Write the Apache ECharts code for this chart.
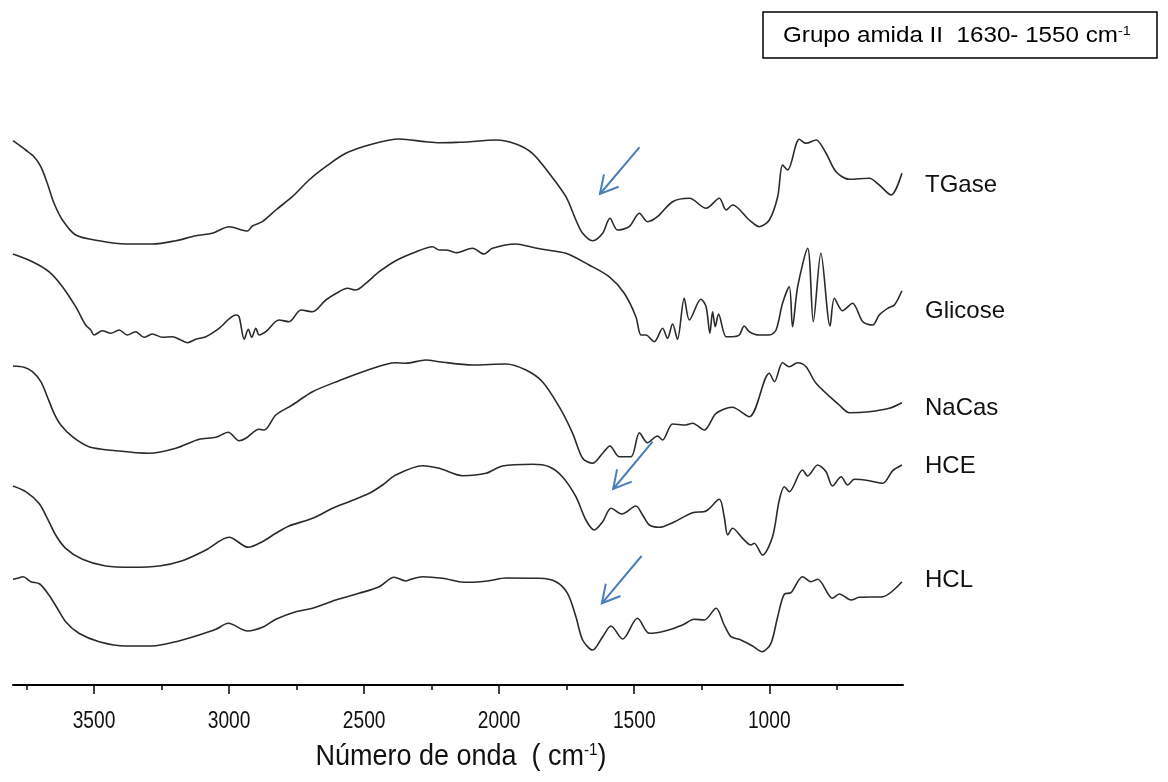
<!DOCTYPE html>
<html><head><meta charset="utf-8">
<script src="https://cdn.jsdelivr.net/npm/echarts@6/dist/echarts.min.js"></script>
<style>html,body{margin:0;padding:0;background:#fff}#c{width:1168px;height:782px}</style>
</head><body><div id="c"></div>
<script>
const seriesNames = ['TGase','Glicose','NaCas','HCE','HCL'];

const tgaseWn = [3800,3753,3722,3697,3673,3648,3617,3568,3481,3383,3284,3197,3123,3062,3000,2932,2914,2877,2827,2766,2704,2642,2568,2469,2370,2272,2222,2148,2123,2012,1938,1877,1815,1753,1716,1691,1654,1617,1590,1562,1519,1481,1451,1414,1358,1296,1234,1185,1160,1136,1074,1037,1000,969,951,932,889,864,827,790,753,704,630,593,549,509];
const tgaseVal = [559.3,550,543.3,533.3,516.7,496.7,480,465,459.3,456,456,459.3,464.3,466.7,473.3,469,474,478.3,490,503.3,520,533.3,546.7,556,561,558.3,557.3,557.7,558,560,556,546.7,526.7,503.3,480,466.7,459.3,466.7,481.7,470,473.3,486.7,478.3,483.3,498.3,501.7,491.7,501.7,490,495,480,473.3,480,503.3,535,530,560.7,556.7,560,546.7,528.3,520.7,521.7,515,505,526.7];

const glicoseWn = [3800,3728,3667,3617,3568,3531,3512,3500,3469,3438,3407,3377,3346,3315,3284,3247,3210,3179,3154,3123,3086,3037,2975,2963,2944,2929,2916,2901,2889,2864,2815,2778,2734,2691,2642,2593,2562,2531,2494,2444,2383,2321,2247,2222,2197,2160,2099,2056,2025,1938,1877,1840,1753,1667,1593,1537,1494,1475,1457,1426,1395,1377,1358,1340,1315,1296,1253,1234,1220,1210,1200,1188,1160,1136,1111,1093,1074,1037,1000,975,951,926,914,895,858,837,809,775,759,729,692,654,617,593,562,537,509];
const glicoseVal = [446,438.3,428.3,413.3,393.3,375,370,365,369.3,366.7,370,365,368.3,362.7,366,362.7,363.3,360,357.3,360.7,363.3,371.7,385,383.3,360.7,370.7,362.7,371.7,365,368.3,380,378.3,390,388.3,400,408.3,411.7,410,416.7,428.3,439.3,446.7,453.3,450,450,447.3,451.7,446,451.7,456,452.7,450.7,446.7,435,423.3,406.7,383.3,365,365,358.3,371.7,361.7,376,360.7,401.7,380,400.7,393.3,366.7,388.3,373.3,386,363.3,363.3,365,374,368.3,365,365,370,396.7,413.3,373.3,413.3,451.7,378.3,446.7,374,401.7,389.3,396.7,378.3,375,385,391.7,395,409.3];

const nacasWn = [3800,3759,3728,3697,3673,3648,3623,3580,3519,3420,3296,3197,3111,3049,3003,2963,2938,2889,2870,2827,2766,2691,2593,2494,2383,2346,2272,2222,2099,1975,1901,1840,1778,1728,1691,1654,1617,1590,1556,1512,1481,1451,1414,1395,1358,1309,1284,1241,1197,1138,1074,1000,981,951,926,895,864,827,741,704,630,556,509];
const nacasVal = [334,332.7,328.3,318.3,303.3,286.7,275,263.3,253.3,249.3,246.7,251.7,260.7,262.7,267.7,259.3,261.7,270.7,270,285,295,308.3,319.3,329.3,337.3,336.7,340,338.3,335,336,330,318.3,293.3,266.7,241.7,236.7,246.7,254,243.3,243.3,267.3,257.3,264,260,276,275,276.7,270,286.7,292.7,283.3,326.7,318.3,337.3,333.3,337.3,333.3,316.7,295,287.3,288.3,291.7,297.3];

const hceWn = [3800,3753,3704,3673,3642,3605,3543,3457,3358,3259,3173,3086,3000,2929,2877,2827,2778,2691,2617,2556,2481,2432,2383,2284,2222,2136,2049,1988,1877,1815,1766,1716,1679,1648,1617,1586,1546,1494,1469,1444,1407,1358,1284,1234,1185,1167,1154,1136,1099,1068,1056,1025,988,963,944,926,877,858,821,790,766,734,710,685,630,580,543,509];
const hceVal = [214,208.3,196.7,181.7,165,151.7,140.7,134,132.7,134,139.3,150,162.7,152.7,158.3,166.7,174,181.7,191.7,198.3,206.7,215,225,234.3,231.7,224.3,226.7,234,235.7,233.3,223.3,203.3,180,170,178.3,191.7,186,194,185,175,172.7,177.3,187.3,189,200.7,183.3,165,171.7,161.7,155,156.7,145,163.3,200,213.3,208.3,230,224,235,228.3,214,223.3,215,220.7,219.3,216.7,229.3,235];

const hclWn = [3800,3784,3763,3734,3701,3667,3636,3605,3556,3481,3383,3284,3197,3111,3049,3003,2932,2877,2827,2753,2691,2605,2519,2444,2389,2346,2327,2284,2210,2148,2111,2037,1975,1852,1790,1747,1716,1691,1654,1617,1586,1543,1488,1444,1383,1321,1278,1241,1197,1167,1142,1111,1062,1027,994,969,944,920,877,846,821,766,741,697,667,580,509];
const hclVal = [120.7,121.7,123.3,118.3,116,105,91.7,78.3,66.7,58.3,54,54,58.3,65,70.7,76.7,69,72.7,80.7,88.3,91.7,100,106.7,113.3,122.7,119,120.7,123.3,121.7,118.3,117.7,119.3,122,121.7,118.3,106.7,83.3,60,50,63.3,74,61,81.7,66.7,69.3,75,80.7,80,91.7,75,63.3,60.7,54,48.3,56.7,83.3,106,107.3,123.3,118.3,120.7,101.7,106,100,102.7,103.3,118.3];

const majorTicks = [3500,3000,2500,2000,1500,1000];
const minorTicks = [3750,3250,2750,2250,1750,1250,750];
const tickLabels = ['3500','3000','2500','2000','1500','1000'];

const arrowStartWn = [1481,1432,1473];
const arrowStartVal = [552.7,258.3,144];
const arrowTipWn = [1627,1578,1620];
const arrowTipVal = [506,211,96.7];

const labelY = [185,311,408,466,580];

const wnSets = [tgaseWn, glicoseWn, nacasWn, hceWn, hclWn];
const valSets = [tgaseVal, glicoseVal, nacasVal, hceVal, hclVal];

const chart = echarts.init(document.getElementById('c'), null, {renderer:'canvas'});
const sans = "'Liberation Sans',Arial,Helvetica,sans-serif";

const option = {
  animation: false,
  backgroundColor: '#fff',
  grid: {left: 13, right: 265, top: 60, bottom: 97},
  xAxis: [{
    type: 'value', inverse: true, min: 505, max: 3800,
    axisLine: {show: true, lineStyle: {color: '#000', width: 2}},
    axisTick: {show: true, customValues: majorTicks, length: 9, lineStyle: {color: '#000', width: 1.5}},
    axisLabel: {show: false},
    splitLine: {show: false}
  }, {
    type: 'value', inverse: true, min: 505, max: 3800, position: 'bottom',
    axisLine: {show: false},
    axisTick: {show: true, customValues: minorTicks, length: 5, lineStyle: {color: '#000', width: 1.5}},
    axisLabel: {show: false}, splitLine: {show: false}
  }],
  yAxis: {type: 'value', min: 15, max: 640, show: false},
  series: seriesNames.map((n, i) => ({
    name: n, type: 'line', xAxisIndex: 0, showSymbol: false, smooth: 0.3,
    lineStyle: {color: '#2a2a2a', width: 1.6},
    data: wnSets[i].map((w, j) => [w, valSets[i][j]])
  })),
  graphic: []
};
chart.setOption(option);

const g = [];
majorTicks.forEach((t, i) => {
  const px = chart.convertToPixel({xAxisIndex: 0}, t);
  g.push({type: 'text', x: px, y: 721, scaleX: 0.8,
    style: {text: tickLabels[i], fontSize: 24, fontFamily: sans, fill: '#111',
      align: 'center', verticalAlign: 'middle'}});
});
const cx = (chart.convertToPixel({xAxisIndex: 0}, 3800) + chart.convertToPixel({xAxisIndex: 0}, 505)) / 2 + 3;
g.push({type: 'text', x: cx, y: 757, scaleX: 0.9,
  style: {text: '{a|Número de onda  ( cm}{s|-1}{a|)}', align: 'center', verticalAlign: 'middle',
    rich: {a: {fontSize: 30, fontFamily: sans, fill: '#111'},
           s: {fontSize: 17, fontFamily: sans, fill: '#111', verticalAlign: 'top', padding: [0,0,14,0]}}}});
seriesNames.forEach((n, i) => {
  g.push({type: 'text', x: 925, y: labelY[i],
    style: {text: n, fontSize: 24, fontFamily: sans, fill: '#111', verticalAlign: 'middle'}});
});
g.push({type: 'rect', shape: {x: 763, y: 12, width: 394, height: 46},
  style: {fill: '#fff', stroke: '#000', lineWidth: 1.5}});
g.push({type: 'text', x: 783, y: 36, scaleX: 1.1,
  style: {text: '{a|Grupo amida II  1630- 1550 cm}{s|-1}', verticalAlign: 'middle',
    rich: {a: {fontSize: 22, fontFamily: sans, fill: '#000'},
           s: {fontSize: 13, fontFamily: sans, fill: '#000', verticalAlign: 'top', padding: [0,0,10,0]}}}});
const blue = '#4A7EBB';
for (let i = 0; i < arrowTipWn.length; i++) {
  const p0 = chart.convertToPixel({gridIndex: 0}, [arrowStartWn[i], arrowStartVal[i]]);
  const p1 = chart.convertToPixel({gridIndex: 0}, [arrowTipWn[i], arrowTipVal[i]]);
  const ang = Math.atan2(p0[1] - p1[1], p0[0] - p1[0]);
  const L = 20, da = 0.5;
  const h1 = [p1[0] + L * Math.cos(ang + da), p1[1] + L * Math.sin(ang + da)];
  const h2 = [p1[0] + L * Math.cos(ang - da), p1[1] + L * Math.sin(ang - da)];
  g.push({type: 'polyline', shape: {points: [p0, p1]}, style: {stroke: blue, lineWidth: 2, fill: null}});
  g.push({type: 'polyline', shape: {points: [h1, p1, h2]}, style: {stroke: blue, lineWidth: 2, fill: null}});
}
chart.setOption({graphic: g});
</script>
</body></html>
